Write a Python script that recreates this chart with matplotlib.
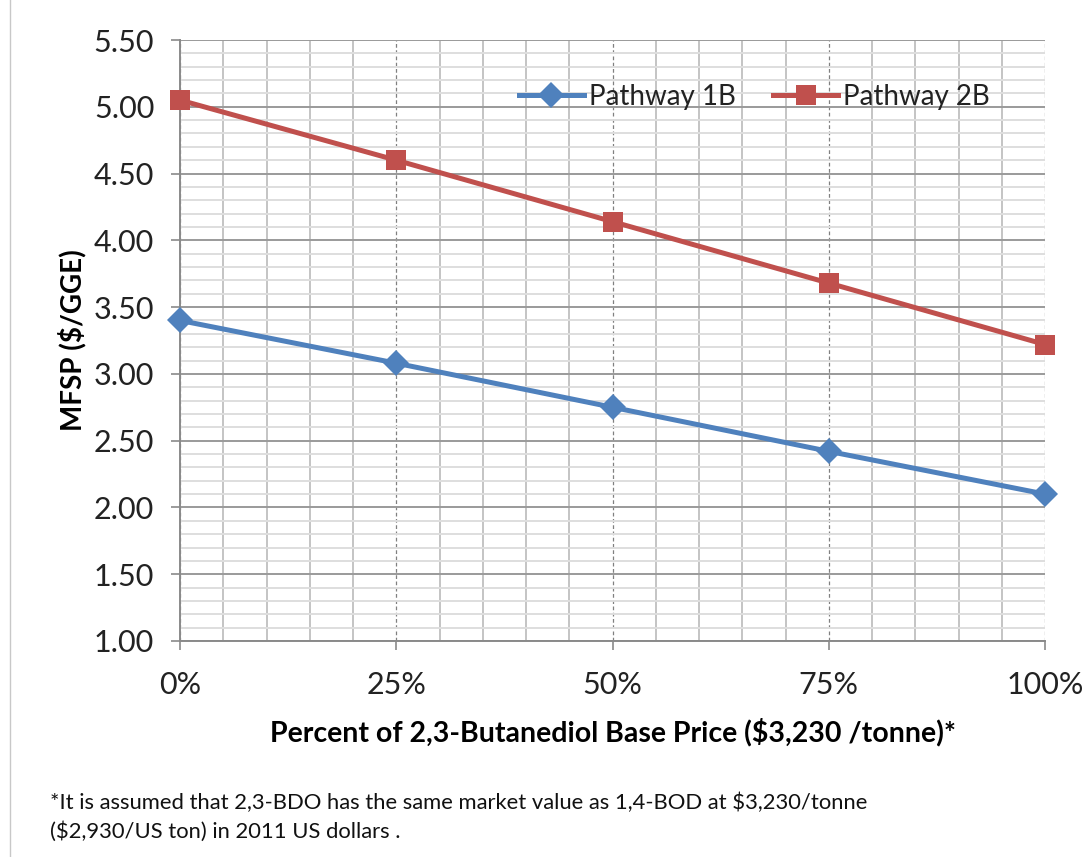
import matplotlib
matplotlib.use("Agg")
import matplotlib.pyplot as plt
from matplotlib.lines import Line2D
from matplotlib.ticker import MultipleLocator, FuncFormatter

# Share of the 2,3-BDO base price and resulting MFSP ($/GGE)
price_share = [0, 25, 50, 75, 100]
pathway_1b = [3.40, 3.08, 2.75, 2.42, 2.10]
pathway_2b = [5.05, 4.60, 4.14, 3.68, 3.22]
series_names = ["Pathway 1B", "Pathway 2B"]
x_tick_labels = ["0%", "25%", "50%", "75%", "100%"]

plt.rcParams["font.family"] = ["Lato", "DejaVu Sans"]

fig = plt.figure(figsize=(10.82, 8.57), dpi=100)
ax = fig.add_axes([180 / 1082, 1 - 641 / 857, 865 / 1082, 601 / 857])

# Gridlines: light minor grid, darker major grid (dashed on x)
ax.set_xlim(0, 100)
ax.set_ylim(1.0, 5.5)
ax.xaxis.set_major_locator(MultipleLocator(25))
ax.xaxis.set_minor_locator(MultipleLocator(5))
ax.yaxis.set_major_locator(MultipleLocator(0.5))
ax.yaxis.set_minor_locator(MultipleLocator(0.1))
ax.grid(True, axis="y", which="minor", color="#dedede", linewidth=1.4)
ax.grid(True, axis="x", which="minor", color="#c4c4c4", linewidth=1.4)
ax.grid(True, axis="y", which="major", color="#9a9a9a", linewidth=1.4)
ax.grid(True, axis="x", which="major", color="#808080", linewidth=0.9,
        linestyle=(0, (3, 2)))
ax.set_axisbelow(True)

for side in ("top", "right"):
    ax.spines[side].set_visible(False)
for side in ("left", "bottom"):
    ax.spines[side].set_color("#8a8a8a")
    ax.spines[side].set_linewidth(1.4)

ax.set_xticks(price_share)
ax.set_xticklabels(x_tick_labels)
ax.yaxis.set_major_formatter(FuncFormatter(lambda v, p: f"{v:.2f}"))
ax.tick_params(axis="both", which="major", direction="out", length=6.5,
               width=1.2, color="#8a8a8a", labelsize=22, labelcolor="#222222")
ax.tick_params(axis="both", which="minor", length=0)
ax.tick_params(axis="x", which="major", pad=15)
ax.tick_params(axis="y", which="major", pad=12)

ax.plot(price_share, pathway_1b, color="#4F81BD", linewidth=3.6, marker="D",
        markersize=13.5, markeredgewidth=0, label=series_names[0], zorder=3)
ax.plot(price_share, pathway_2b, color="#C0504D", linewidth=3.6, marker="s",
        markersize=14, markeredgewidth=0, label=series_names[1], zorder=3)
for ln in ax.lines:
    ln.set_clip_on(False)

ax.set_xlabel("Percent of 2,3-Butanediol Base Price ($3,230 /tonne)*",
              fontsize=20.5, fontweight="bold", labelpad=14)
ax.set_ylabel("MFSP ($/GGE)", fontsize=20, fontweight="bold", labelpad=5)

leg = ax.legend(loc="center", bbox_to_anchor=(0.664, 0.905), ncol=2,
                frameon=False, fontsize=20, handlelength=2.34,
                handletextpad=0.18, columnspacing=1.37, borderaxespad=0,
                borderpad=0)
for t in leg.get_texts():
    t.set_color("#222222")

fig.text(50 / 1082, 1 - 803 / 857,
         "*It is assumed that 2,3-BDO has the same market value as 1,4-BOD at $3,230/tonne",
         fontsize=15.8, va="center", ha="left", color="#111111")
fig.text(50 / 1082, 1 - 832 / 857,
         "($2,930/US ton) in 2011 US dollars .",
         fontsize=15.8, va="center", ha="left", color="#111111")

fig.add_artist(Line2D([10 / 1082, 10 / 1082], [0, 1], color="#c8c8c8",
                      linewidth=1.0, transform=fig.transFigure))

fig.savefig("out.png", dpi=100)
